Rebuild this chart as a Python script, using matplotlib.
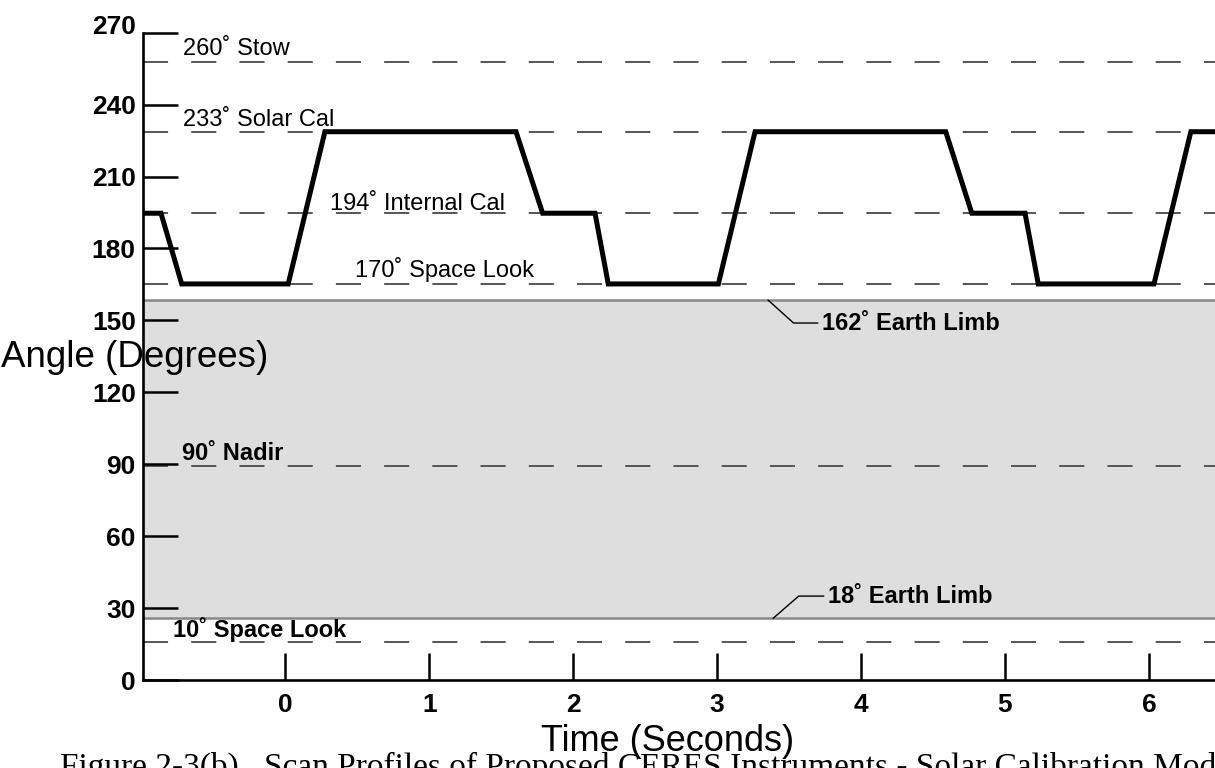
import matplotlib
matplotlib.use('Agg')
import matplotlib.pyplot as plt
import matplotlib.transforms as mtransforms

# scan profile (time in seconds, elevation angle in degrees)
scan_t = [-1.0, -0.865, -0.721, 0.019, 0.274, 1.602, 1.787, 2.151, 2.243,
          3.008, 3.263, 4.588, 4.769, 5.139, 5.231, 6.035, 6.291, 6.6]
scan_angle = [194.7, 194.7, 165.2, 165.2, 228.7, 228.7, 194.7, 194.7, 165.2,
              165.2, 228.7, 228.7, 194.7, 194.7, 165.2, 165.2, 228.7, 228.7]

# dashed reference positions and their labels
ref_angles = [257.9, 228.7, 194.7, 165.2, 89.4, 16.0]
ref_labels = ['260˚ Stow', '233˚ Solar Cal', '194˚ Internal Cal',
              '170˚ Space Look', '90˚ Nadir', '10˚ Space Look']
ref_label_t = [-0.712, -0.712, 0.309, 0.483, -0.721, -0.782]
ref_label_y = [260.7, 230.9, 196.0, 168.3, 91.7, 18.1]
ref_label_bold = [False, False, False, False, True, True]

# earth band
earth_lo = 25.7
earth_hi = 158.5
limb_labels = ['162˚ Earth Limb', '18˚ Earth Limb']
limb_text_t = [3.728, 3.770]
limb_text_y = [148.9, 35.0]
limb_point_t = [3.353, 3.388]
limb_point_y = [earth_hi, earth_lo]
limb_angles = [-42, 41]

x_ticks = [0, 1, 2, 3, 4, 5, 6]
y_ticks = [0, 30, 60, 90, 120, 150, 180, 210, 240, 270]

SANS = ['Liberation Sans', 'DejaVu Sans']
SERIF = ['Liberation Serif', 'DejaVu Serif']


def main():
    plt.rcParams['font.family'] = SANS
    fig = plt.figure(figsize=(12.15, 7.68), dpi=100)
    ax = fig.add_axes([142.7 / 1215, 88 / 768, 1 - 142.7 / 1215, 647.3 / 768])
    ax.set_xlim(-0.992, 6.459)
    ax.set_ylim(0, 270)

    # shaded earth view
    ax.axhspan(earth_lo, earth_hi, color='#dedede', lw=0, zorder=0)
    for yv in (earth_lo, earth_hi):
        ax.axhline(yv, color='#888888', lw=1.8, zorder=1)

    # dashed reference lines
    for yv in ref_angles:
        ax.axhline(yv, color='#555555', lw=1.4, linestyle=(0, (12.9, 11.9)), zorder=1)

    for lab, t, yv, bold in zip(ref_labels, ref_label_t, ref_label_y, ref_label_bold):
        ax.text(t, yv, lab, fontsize=17, fontweight='bold' if bold else 'normal',
                ha='left', va='baseline', zorder=3)

    for lab, tt, ty, pt, py, ang in zip(limb_labels, limb_text_t, limb_text_y,
                                        limb_point_t, limb_point_y, limb_angles):
        ax.annotate(lab, xy=(pt, py), xytext=(tt, ty), fontsize=17, fontweight='bold',
                    ha='left', va='center', zorder=3,
                    arrowprops=dict(arrowstyle='-', color='black', lw=1.0,
                                    shrinkA=1, shrinkB=0, relpos=(0, 0.5),
                                    connectionstyle='angle,angleA=0,angleB=%d,rad=0' % ang))

    # scan profile
    ax.plot(scan_t, scan_angle, color='black', lw=3.6, solid_joinstyle='miter', zorder=4)

    for side in ('top', 'right'):
        ax.spines[side].set_visible(False)
    for side in ('left', 'bottom'):
        ax.spines[side].set_linewidth(1.9)
        ax.spines[side].set_zorder(5)

    ax.set_xticks(x_ticks)
    ax.set_xticklabels([str(v) for v in x_ticks], fontsize=19, fontweight='bold')
    ax.set_yticks(y_ticks)
    ax.set_yticklabels([str(v) for v in y_ticks], fontsize=19, fontweight='bold')
    ax.tick_params(axis='x', direction='in', length=19.4, width=1.8, pad=9)
    ax.tick_params(axis='y', direction='in', length=25.2, width=1.8, pad=5)

    # the top label sits a bit higher in the original
    top_lab = ax.get_yticklabels()[-1]
    top_lab.set_transform(top_lab.get_transform() +
                          mtransforms.ScaledTranslation(0, 6 / 72, fig.dpi_scale_trans))

    fig.text(268 / 1215, (768 - 367) / 768, 'Angle (Degrees)', fontsize=26.5,
             ha='right', va='baseline')
    fig.text(668 / 1215, (768 - 751) / 768, 'Time (Seconds)', fontsize=26,
             ha='center', va='baseline')
    fig.text(60 / 1215, (768 - 776) / 768,
             'Figure 2-3(b).  Scan Profiles of Proposed CERES Instruments - Solar Calibration Mode',
             fontsize=24, family=SERIF, ha='left', va='baseline')

    fig.savefig('out.png', dpi=100)


if __name__ == '__main__':
    main()
